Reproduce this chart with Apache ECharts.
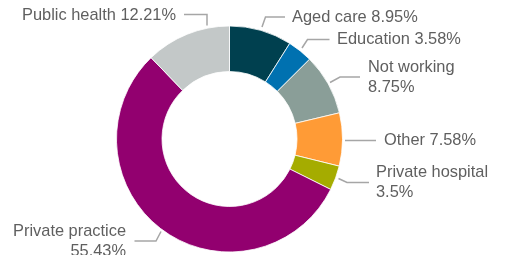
<!DOCTYPE html>
<html>
<head>
<meta charset="utf-8">
<script src="https://cdn.jsdelivr.net/npm/echarts@6/dist/echarts.min.js"></script>
<style>
html, body { margin: 0; padding: 0; background: #fff; }
#main { width: 506px; height: 255px; }
</style>
</head>
<body>
<div id="main"></div>
<script>
var names = ["Aged care", "Education", "Not working", "Other", "Private hospital", "Private practice", "Public health"];
var values = [8.95, 3.58, 8.75, 7.58, 3.5, 55.43, 12.21];
var colors = ["#00404F", "#0071B0", "#8A9E98", "#FF9B36", "#A5AC00", "#92006F", "#C3C8C8"];

// label placement: text anchor, alignment, wrap, leader line
var labelPos = [
    {x: 292, y: 17, align: "left", wrap: false, line: [[262, 27], [265.5, 17], [285, 17]]},
    {x: 337, y: 39.5, align: "left", wrap: false, line: [[302, 48], [307.5, 39.5], [329.5, 39.5]]},
    {x: 368, y: 77.5, align: "left", wrap: true, line: [[330, 82.5], [340, 77], [360, 77]]},
    {x: 384, y: 140.5, align: "left", wrap: false, line: [[345, 140.5], [376, 140.5]]},
    {x: 376, y: 182.5, align: "left", wrap: true, line: [[338.5, 178.5], [347, 182.5], [369, 182.5]]},
    {x: 126, y: 241.5, align: "right", wrap: true, line: [[161, 231.5], [156, 241], [134.5, 241]]},
    {x: 176, y: 15, align: "right", wrap: false, line: [[207, 25.5], [207, 14.5], [184, 14.5]]}
];

var data = [];
names.forEach(function (n, i) {
    data.push({name: n, value: values[i], itemStyle: {color: colors[i]}});
});

var myChart = echarts.init(document.getElementById("main"));
var option = {
    animation: false,
    backgroundColor: "#fff",
    series: [{
        type: "pie",
        center: [229.5, 139],
        radius: [67.5, 113],
        startAngle: 90,
        clockwise: true,
        data: data,
        itemStyle: {borderColor: "#fff", borderWidth: 0.8},
        label: {
            show: true,
            color: "#5F5F5F",
            fontFamily: "Liberation Sans, Arial, sans-serif",
            fontSize: 16.4,
            lineHeight: 20,
            overflow: "none",
            width: 300,
            formatter: function (p) {
                var sep = labelPos[p.dataIndex].wrap ? "\n" : " ";
                return p.name + sep + p.value + "%";
            }
        },
        labelLine: {
            show: true,
            lineStyle: {color: "#A6A6A6", width: 1.5}
        },
        labelLayout: function (params) {
            var l = labelPos[params.dataIndex];
            return {
                x: l.x,
                y: l.y,
                align: l.align,
                verticalAlign: "middle",
                labelLinePoints: l.line
            };
        }
    }]
};
myChart.setOption(option);
</script>
</body>
</html>
